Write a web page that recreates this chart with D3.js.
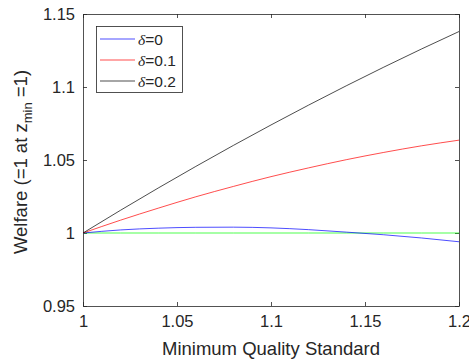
<!DOCTYPE html>
<html><head><meta charset="utf-8">
<script src="https://cdn.jsdelivr.net/npm/d3@7"></script>
<style>body{margin:0;background:#fff}svg{display:block}text{font-family:"Liberation Sans",Arial,sans-serif;fill:#262626}</style>
</head><body><svg id="c" width="469" height="362"></svg>
<script>
const xValues = [1, 1.02, 1.04, 1.06, 1.08, 1.10, 1.12, 1.14, 1.16, 1.18, 1.20];
const delta0 = [1, 1.0021, 1.0033, 1.0039, 1.0040, 1.0035, 1.0023, 1.0006, 0.9988, 0.9966, 0.9940];
const delta01 = [1, 1.0088, 1.0170, 1.0248, 1.0319, 1.0386, 1.0446, 1.0502, 1.0552, 1.0597, 1.0636];
const delta02 = [1, 1.0156, 1.0308, 1.0456, 1.0600, 1.0740, 1.0876, 1.1008, 1.1136, 1.1260, 1.1380];
const baseline = [1, 1, 1, 1, 1, 1, 1, 1, 1, 1, 1];
const xTicks = [1, 1.05, 1.1, 1.15, 1.2];
const yTicks = [0.95, 1, 1.05, 1.1, 1.15];
const legendLabels = ["0", "0.1", "0.2"];

const svg = d3.select("#c");
const L = 83, R = 459, T = 14, B = 306;
const x = d3.scaleLinear().domain([1, 1.2]).range([L, R]);
const y = d3.scaleLinear().domain([0.95, 1.15]).range([B, T]);
const axisColor = "#262626";
const fmt = d => String(d);

const gx = svg.append("g").attr("transform", `translate(0,${B})`)
  .call(d3.axisBottom(x).tickValues(xTicks).tickFormat(fmt).tickSizeInner(-4).tickSizeOuter(0).tickPadding(9));
const gxt = svg.append("g").attr("transform", `translate(0,${T})`)
  .call(d3.axisTop(x).tickValues(xTicks).tickFormat("").tickSizeInner(-4).tickSizeOuter(0));
const gy = svg.append("g").attr("transform", `translate(${L},0)`)
  .call(d3.axisLeft(y).tickValues(yTicks).tickFormat(fmt).tickSizeInner(-4).tickSizeOuter(0).tickPadding(8));
const gyr = svg.append("g").attr("transform", `translate(${R},0)`)
  .call(d3.axisRight(y).tickValues(yTicks).tickFormat("").tickSizeInner(-4).tickSizeOuter(0));
[gx, gxt, gy, gyr].forEach(g => {
  g.selectAll("path.domain").attr("stroke", axisColor).attr("stroke-width", 0.8);
  g.selectAll("line").attr("stroke", axisColor).attr("stroke-width", 0.8);
  g.selectAll("text").attr("font-size", 16.5).attr("fill", axisColor)
   .attr("font-family", '"Liberation Sans",Arial,sans-serif');
});

const series = [
  {v: baseline, c: "#00ff00"},
  {v: delta0, c: "#0000ff"},
  {v: delta01, c: "#ff0000"},
  {v: delta02, c: "#000000"}
];
const line = d3.line().curve(d3.curveMonotoneX);
series.forEach(s => {
  svg.append("path")
    .attr("d", line(xValues.map((xv, i) => [x(xv), y(s.v[i])])))
    .attr("fill", "none").attr("stroke", s.c).attr("stroke-width", 0.7);
});

// legend
const lg = svg.append("g");
lg.append("rect").attr("x", 96.5).attr("y", 26.5).attr("width", 86).attr("height", 66)
  .attr("fill", "#fff").attr("stroke", axisColor).attr("stroke-width", 0.8);
const legColors = ["#0000ff", "#ff0000", "#000000"];
legendLabels.forEach((lab, i) => {
  const yy = 39 + i * 21;
  lg.append("line").attr("x1", 100).attr("x2", 135).attr("y1", yy).attr("y2", yy)
    .attr("stroke", legColors[i]).attr("stroke-width", 0.7);
  const t = lg.append("text").attr("x", 138).attr("y", yy + 5.5).attr("font-size", 15.5);
  t.append("tspan").attr("font-family", '"Liberation Serif","DejaVu Serif",serif').attr("font-style", "italic").text("δ");
  t.append("tspan").text("=" + lab);
});

// axis labels
svg.append("text").attr("x", (L + R) / 2).attr("y", 355).attr("text-anchor", "middle")
  .attr("font-size", 18.5).text("Minimum Quality Standard");
const yl = svg.append("text").attr("transform", "translate(27,162) rotate(-90)")
  .attr("text-anchor", "middle").attr("font-size", 18.5);
yl.append("tspan").text("Welfare (=1 at z");
yl.append("tspan").attr("font-size", 13).attr("dy", 5).text("min");
yl.append("tspan").attr("dy", -5).text(" =1)");
</script></body></html>
